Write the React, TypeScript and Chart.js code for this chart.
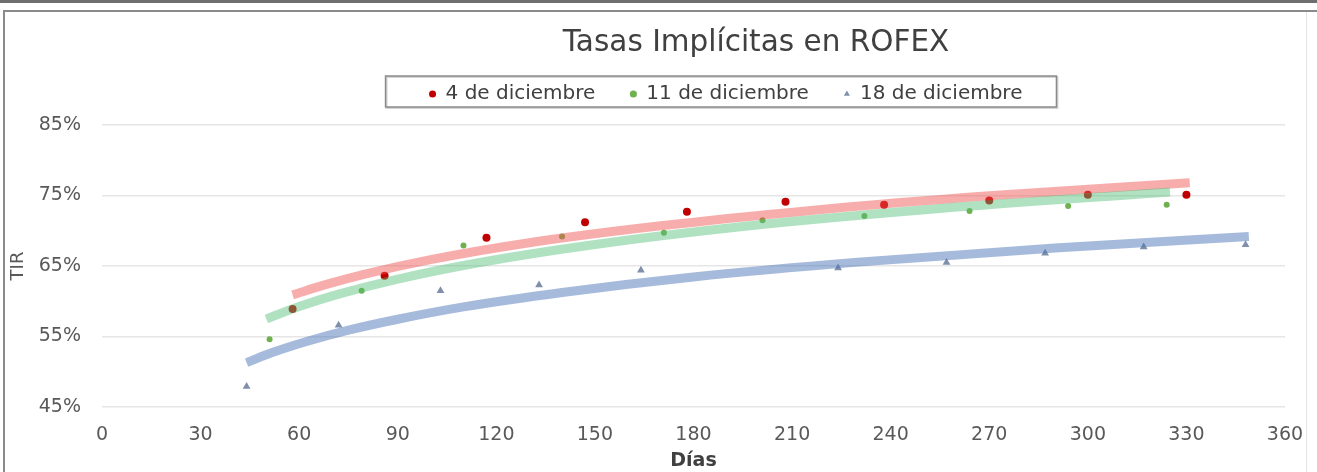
import React, { useEffect, useRef } from 'react';
import { Chart, registerables } from 'chart.js';

Chart.register(...registerables);

// ---- Data ----
const dec4Days = [58, 86, 117, 147, 178, 208, 238, 270, 300, 330];
const dec4Rates = [58.9, 63.6, 69.0, 71.2, 72.7, 74.1, 73.7, 74.3, 75.1, 75.1];

const dec11Days = [51, 79, 110, 140, 171, 201, 232, 264, 294, 324];
const dec11Rates = [54.6, 61.5, 67.9, 69.2, 69.7, 71.5, 72.1, 72.8, 73.5, 73.7];

const dec18Days = [44, 72, 103, 133, 164, 224, 257, 287, 317, 348];
const dec18Rates = [47.9, 56.6, 61.5, 62.3, 64.4, 64.7, 65.5, 66.8, 67.7, 68.0];

// Trend lines (logarithmic trend curves, read at several points)
const trend4Days = [58, 68, 80, 100, 130, 170, 215, 270, 331];
const trend4Rates = [60.9, 62.35, 63.85, 65.9, 68.3, 70.7, 72.85, 74.95, 76.8];

const trend11Days = [50, 60, 72, 90, 115, 150, 195, 255, 325];
const trend11Rates = [57.5, 59.25, 61.0, 63.15, 65.5, 68.05, 70.6, 73.15, 75.5];

const trend18Days = [44, 52, 62, 75, 90, 110, 140, 180, 230, 290, 349];
const trend18Rates = [51.3, 52.75, 54.25, 55.9, 57.45, 59.2, 61.25, 63.45, 65.55, 67.55, 69.2];

const seriesLabels = ['4 de diciembre', '11 de diciembre', '18 de diciembre'];
const chartTitle = 'Tasas Implícitas en ROFEX';
const xTitle = 'Días';
const yTitle = 'TIR';

const FONT = "'DejaVu Sans', 'Liberation Sans', sans-serif";

const LEGEND_H = 76;
const TITLE_CX = 751;
const LEGEND_CX = 721;

const toXY = (xs: number[], ys: number[]) => xs.map((x, i) => ({ x, y: ys[i] }));

const layoutFix = {
  id: 'layoutFix',
  beforeLayout(chart: any) {
    const lg = chart.legend;
    if (lg && !lg.__patched) {
      const orig = lg.fit;
      lg.fit = function () {
        orig.call(this);
        if (this.isHorizontal()) this.height = LEGEND_H;
      };
      lg.__patched = true;
    }
  },
  afterLayout(chart: any) {
    const tb = chart.titleBlock;
    if (tb) {
      const dx = TITLE_CX - (tb.left + tb.right) / 2;
      tb.left += dx;
      tb.right += dx;
    }
    const lg = chart.legend;
    if (lg) {
      const dx = LEGEND_CX - (lg.left + lg.right) / 2;
      lg.left += dx;
      lg.right += dx;
    }
  },
  afterDraw(chart: any) {
    const lg = chart.legend;
    const hb = lg && lg.legendHitBoxes;
    if (!hb || !hb.length) return;
    const l = Math.min(...hb.map((h: any) => h.left)) - 44;
    const r = Math.max(...hb.map((h: any) => h.left + h.width)) + 34;
    const t = hb[0].top - 8;
    const b = hb[0].top + hb[0].height + 3;
    const ctx = chart.ctx;
    ctx.save();
    ctx.strokeStyle = '#d4d4d4';
    ctx.lineWidth = 2;
    ctx.strokeRect(l + 1, t + 1, r - l, b - t);
    ctx.strokeStyle = '#8a8a8a';
    ctx.lineWidth = 1.5;
    ctx.strokeRect(l, t, r - l, b - t);
    ctx.restore();
  },
};

export default function App() {
  const ref = useRef<HTMLCanvasElement>(null);

  useEffect(() => {
    if (!ref.current) return;
    const trendBase = {
      showLine: true,
      borderWidth: 9,
      pointRadius: 0,
      pointHoverRadius: 0,
      cubicInterpolationMode: 'monotone' as const,
      borderCapStyle: 'butt' as const,
      order: 1,
      fill: false,
    };
    const chart = new Chart(ref.current, {
      type: 'scatter',
      data: {
        datasets: [
          {
            label: seriesLabels[0],
            data: toXY(dec4Days, dec4Rates),
            backgroundColor: '#C00000',
            borderColor: '#C00000',
            borderWidth: 0,
            pointRadius: 4,
            pointStyle: 'circle',
            order: 2,
          },
          {
            label: seriesLabels[1],
            data: toXY(dec11Days, dec11Rates),
            backgroundColor: '#6FB14E',
            borderColor: '#6FB14E',
            borderWidth: 0,
            pointRadius: 3,
            pointStyle: 'circle',
            order: 2,
          },
          {
            label: seriesLabels[2],
            data: toXY(dec18Days, dec18Rates),
            backgroundColor: '#8090AA',
            borderColor: '#8090AA',
            borderWidth: 0,
            pointRadius: 4.5,
            pointStyle: 'triangle',
            order: 2,
          },
          {
            ...trendBase,
            label: 'Tendencia ' + seriesLabels[2],
            data: toXY(trend18Days, trend18Rates),
            borderColor: 'rgba(70,110,180,0.48)',
            backgroundColor: 'rgba(70,110,180,0.48)',
          },
          {
            ...trendBase,
            label: 'Tendencia ' + seriesLabels[1],
            data: toXY(trend11Days, trend11Rates),
            borderColor: 'rgba(80,190,120,0.45)',
            backgroundColor: 'rgba(80,190,120,0.45)',
          },
          {
            ...trendBase,
            label: 'Tendencia ' + seriesLabels[0],
            data: toXY(trend4Days, trend4Rates),
            borderColor: 'rgba(239,83,80,0.48)',
            backgroundColor: 'rgba(239,83,80,0.48)',
          },
        ] as any,
      },
      options: {
        animation: false,
        responsive: true,
        maintainAspectRatio: false,
        layout: { padding: { left: 0, right: 20, top: 0, bottom: 0 } },
        plugins: {
          tooltip: { enabled: false },
          title: {
            display: true,
            text: chartTitle,
            color: '#404040',
            font: { family: FONT, size: 29.5, weight: 'normal' },
            padding: { top: 14, bottom: -12.4 },
          },
          legend: {
            display: true,
            position: 'top',
            labels: {
              usePointStyle: true,
              boxWidth: 6,
              boxHeight: 5,
              padding: 35,
              color: '#404040',
              font: { family: FONT, size: 20 },
              filter: (item: any, data: any) =>
                !String(data.datasets[item.datasetIndex].label).startsWith('Tendencia'),
            },
          },
        },
        scales: {
          x: {
            type: 'linear',
            min: 0,
            max: 360,
            ticks: {
              stepSize: 30,
              color: '#595959',
              font: { family: FONT, size: 19 },
              padding: 17,
            },
            grid: { display: false, drawTicks: false },
            border: { display: false },
            title: {
              display: true,
              text: xTitle,
              color: '#404040',
              font: { family: FONT, size: 19, weight: 'bold' },
              padding: { top: 0, bottom: 0 },
            },
            afterFit: (s: any) => {
              s.height = 65;
              s.paddingRight = 0;
              s.paddingLeft = 0;
            },
          },
          y: {
            type: 'linear',
            min: 45,
            max: 85,
            ticks: {
              stepSize: 10,
              callback: (v: any) => v + '%',
              color: '#595959',
              font: { family: FONT, size: 19 },
              padding: 21,
            },
            grid: { color: '#e6e6e6', lineWidth: 1.5, drawTicks: false },
            border: { display: false },
            title: {
              display: true,
              text: yTitle,
              color: '#595959',
              font: { family: FONT, size: 18 },
              padding: { top: 3, bottom: 0 },
            },
            afterFit: (s: any) => {
              s.width = 97;
            },
          },
        },
      } as any,
      plugins: [layoutFix as any],
    });
    return () => chart.destroy();
  }, []);

  return (
    <div style={{ position: 'absolute', left: 0, top: 0, width: 1317, height: 472, background: '#fff', overflow: 'hidden' }}>
      <div style={{ position: 'absolute', left: 0, top: 0, width: 1317, height: 3, background: '#6e6e6e' }} />
      <div
        style={{
          position: 'absolute',
          left: 3,
          top: 10,
          width: 1314,
          height: 462,
          borderTop: '2px solid #8a8a8a',
          borderLeft: '2px solid #8a8a8a',
          boxSizing: 'border-box',
        }}
      />
      <div style={{ position: 'absolute', left: 1306, top: 12, width: 1, height: 460, background: '#e4e4e4' }} />
      <div style={{ position: 'absolute', left: 5, top: 12, width: 1300, height: 460 }}>
        <canvas ref={ref} />
      </div>
    </div>
  );
}
